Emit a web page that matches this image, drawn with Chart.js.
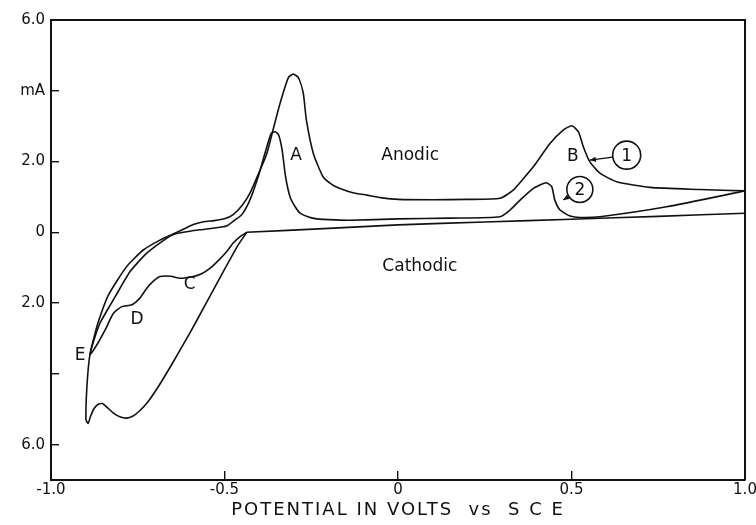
<!DOCTYPE html>
<html>
<head>
<meta charset="utf-8">
<script src="https://cdn.jsdelivr.net/npm/chart.js@4/dist/chart.umd.min.js"></script>
<style>
  html, body { margin: 0; padding: 0; background: #fff; }
  #wrap { width: 756px; height: 525px; position: relative; }
</style>
</head>
<body>
<div id="wrap"><canvas id="cv"></canvas></div>
<script>
// Axis ticks
const xTickValues = [-1.0, -0.5, 0, 0.5, 1.0];
const xTickLabels = ["-1.0", "-0.5", "0", "0.5", "1.0"];
const yTickValues = [6, 4, 2, 0, -2, -4, -6];
const yTickLabels = ["6.0", "mA", "2.0", "0", "2.0", "", "6.0"];

// Common cathodic return (V vs SCE, mA), swept from +1.0 V
const returnPotential = [1.0, 0.75, 0.5, 0.25, 0.0, -0.2, -0.436];
const returnCurrent   = [0.54, 0.45, 0.37, 0.29, 0.21, 0.11, 0.0];

// Cycle 1: cathodic branch to -0.9 V, then the anodic sweep (peaks A and B)
const cycle1Potential = [
  -0.436, -0.46, -0.50, -0.55, -0.60, -0.65, -0.69, -0.72, -0.745, -0.765,
  -0.782, -0.80, -0.82, -0.838, -0.852, -0.864, -0.876, -0.886, -0.893, -0.899,
  -0.899, -0.897, -0.893, -0.888, -0.878, -0.862, -0.835, -0.782, -0.734, -0.686,
  -0.648, -0.62, -0.59, -0.56, -0.53, -0.50, -0.475, -0.45, -0.427, -0.40,
  -0.378, -0.36, -0.34, -0.316, -0.302, -0.287, -0.273, -0.264, -0.244, -0.216,
  -0.19, -0.167, -0.13, -0.09, -0.05, 0.0, 0.1, 0.2, 0.294, 0.332,
  0.36, 0.39, 0.438, 0.476, 0.501, 0.52, 0.534, 0.553, 0.582, 0.63,
  0.726, 0.87, 1.0
];
const cycle1Current = [
  0.0, -0.35, -1.05, -1.95, -2.85, -3.70, -4.35, -4.78, -5.05, -5.20,
  -5.25, -5.22, -5.11, -4.95, -4.84, -4.86, -4.98, -5.2, -5.40, -5.30,
  -4.90, -4.45, -3.89, -3.47, -3.04, -2.48, -1.78, -0.97, -0.50, -0.22,
  -0.05, 0.08, 0.22, 0.30, 0.33, 0.38, 0.50, 0.75, 1.10, 1.70,
  2.23, 2.90, 3.64, 4.37, 4.47, 4.37, 3.93, 3.17, 2.23, 1.57,
  1.35, 1.24, 1.12, 1.05, 0.98, 0.93, 0.92, 0.93, 0.96, 1.19,
  1.50, 1.85, 2.51, 2.89, 3.01, 2.84, 2.42, 1.99, 1.67, 1.43,
  1.27, 1.21, 1.17
];

// Cycle 2: cathodic branch with waves C, D down to E, then the anodic sweep
const cycle2Potential = [
  -0.436, -0.455, -0.475, -0.494, -0.518, -0.542, -0.566, -0.59, -0.628, -0.655,
  -0.686, -0.705, -0.724, -0.744, -0.767, -0.796, -0.82, -0.844, -0.866, -0.888,
  -0.878, -0.859, -0.815, -0.772, -0.724, -0.667, -0.643, -0.60, -0.571, -0.53,
  -0.494, -0.47, -0.45, -0.427, -0.403, -0.378, -0.365, -0.354, -0.344, -0.334,
  -0.324, -0.311, -0.295, -0.282, -0.26, -0.234, -0.18, -0.138, 0.0, 0.15,
  0.294, 0.323, 0.352, 0.39, 0.419, 0.428, 0.443, 0.452, 0.467, 0.496,
  0.524, 0.582, 0.774, 1.0
];
const cycle2Current = [
  0.0, -0.12, -0.30, -0.55, -0.80, -1.02, -1.17, -1.25, -1.30, -1.24,
  -1.25, -1.38, -1.58, -1.86, -2.05, -2.10, -2.29, -2.76, -3.15, -3.47,
  -3.10, -2.57, -1.82, -1.11, -0.59, -0.17, -0.05, 0.03, 0.07, 0.12,
  0.18, 0.35, 0.50, 0.91, 1.57, 2.42, 2.80, 2.84, 2.75, 2.33,
  1.57, 1.00, 0.70, 0.54, 0.44, 0.38, 0.35, 0.34, 0.38, 0.40,
  0.44, 0.63, 0.91, 1.24, 1.38, 1.40, 1.29, 0.91, 0.63, 0.46,
  0.42, 0.44, 0.72, 1.17
];

const toPoints = (xs, ys) => xs.map((x, i) => ({ x: x, y: ys[i] }));

const INK = '#111';
const FONT = '"DejaVu Sans", "Liberation Sans", sans-serif';

function traceStyle(points) {
  return {
    data: points,
    showLine: true,
    borderColor: INK,
    borderWidth: 1.6,
    pointRadius: 0,
    tension: 0.2,
    fill: false
  };
}

// Letters, region names and numbered callouts placed in data coordinates
const callouts = {
  id: 'callouts',
  afterDatasetsDraw(chart, args, opts) {
    const { ctx, scales: { x, y } } = chart;
    ctx.save();
    ctx.fillStyle = INK;
    ctx.strokeStyle = INK;
    ctx.textAlign = 'center';
    ctx.textBaseline = 'middle';
    ctx.font = '17px ' + FONT;
    opts.texts.forEach(t => {
      ctx.fillText(t.text, x.getPixelForValue(t.x), y.getPixelForValue(t.y));
    });
    opts.rings.forEach(r => {
      const cx = x.getPixelForValue(r.x), cy = y.getPixelForValue(r.y);
      ctx.lineWidth = 1.6;
      ctx.beginPath();
      ctx.arc(cx, cy, r.radius, 0, Math.PI * 2);
      ctx.stroke();
      ctx.fillText(r.text, cx, cy + 1);
      // leader with arrowhead onto the curve
      const tx = x.getPixelForValue(r.tipX), ty = y.getPixelForValue(r.tipY);
      const ang = Math.atan2(ty - cy, tx - cx);
      const sx = cx + Math.cos(ang) * r.radius, sy = cy + Math.sin(ang) * r.radius;
      ctx.lineWidth = 1.2;
      ctx.beginPath();
      ctx.moveTo(sx, sy);
      ctx.lineTo(tx, ty);
      ctx.stroke();
      const ah = 6, aw = 2.6;
      ctx.beginPath();
      ctx.moveTo(tx, ty);
      ctx.lineTo(tx - Math.cos(ang) * ah - Math.sin(ang) * aw, ty - Math.sin(ang) * ah + Math.cos(ang) * aw);
      ctx.lineTo(tx - Math.cos(ang) * ah + Math.sin(ang) * aw, ty - Math.sin(ang) * ah - Math.cos(ang) * aw);
      ctx.closePath();
      ctx.fill();
    });
    ctx.restore();
  }
};

// Closes the frame on the top and right sides
const frame = {
  id: 'frame',
  afterDraw(chart) {
    const { ctx, chartArea: a } = chart;
    ctx.save();
    ctx.strokeStyle = INK;
    ctx.lineWidth = 2;
    ctx.beginPath();
    ctx.moveTo(a.left, a.top);
    ctx.lineTo(a.right, a.top);
    ctx.lineTo(a.right, a.bottom);
    ctx.stroke();
    ctx.restore();
  }
};

// Wider letter spacing for the potential-axis caption
const spacedTitle = {
  id: 'spacedTitle',
  afterLayout(chart) {
    const s = chart.scales.x;
    if (s._spaced) return;
    const base = s.drawTitle.bind(s);
    s.drawTitle = function () {
      const c = this.ctx;
      c.save();
      c.letterSpacing = '2px';
      base();
      c.restore();
    };
    s._spaced = true;
  }
};

new Chart(document.getElementById('cv'), {
  type: 'scatter',
  data: {
    datasets: [
      traceStyle(toPoints(returnPotential, returnCurrent)),
      traceStyle(toPoints(cycle1Potential, cycle1Current)),
      traceStyle(toPoints(cycle2Potential, cycle2Current))
    ]
  },
  options: {
    responsive: true,
    maintainAspectRatio: false,
    animation: false,
    layout: { padding: { top: 20, right: 11, left: 0, bottom: 0 } },
    plugins: {
      legend: { display: false },
      tooltip: { enabled: false },
      callouts: {
        texts: [
          { text: 'A', x: -0.294, y: 2.18 },
          { text: 'Anodic', x: 0.035, y: 2.18 },
          { text: 'B', x: 0.504, y: 2.15 },
          { text: 'Cathodic', x: 0.063, y: -0.98 },
          { text: 'C', x: -0.60, y: -1.49 },
          { text: 'D', x: -0.752, y: -2.48 },
          { text: 'E', x: -0.916, y: -3.47 }
        ],
        rings: [
          { text: '1', x: 0.659, y: 2.18, radius: 14, tipX: 0.553, tipY: 2.04 },
          { text: '2', x: 0.524, y: 1.21, radius: 13, tipX: 0.476, tipY: 0.91 }
        ]
      }
    },
    scales: {
      x: {
        type: 'linear',
        min: -1, max: 1,
        afterBuildTicks: s => { s.ticks = xTickValues.map(v => ({ value: v })); },
        afterFit: s => { s.height = 45; s.paddingLeft = 0; s.paddingRight = 0; },
        grid: { drawOnChartArea: false, drawTicks: true, tickLength: -9, color: INK, lineWidth: 1.4 },
        border: { display: true, color: INK, width: 2 },
        ticks: {
          autoSkip: false, maxRotation: 0, padding: 10,
          color: INK, font: { family: FONT, size: 15 },
          callback: v => xTickLabels[xTickValues.indexOf(v)]
        },
        title: {
          display: true,
          text: 'POTENTIAL IN VOLTS  vs  S C E',
          color: INK,
          font: { family: FONT, size: 18 },
          padding: { top: 0, bottom: 4 }
        }
      },
      y: {
        type: 'linear',
        min: -7, max: 6,
        afterBuildTicks: s => { s.ticks = yTickValues.map(v => ({ value: v })); },
        afterFit: s => { s.width = 51; s.paddingTop = 0; s.paddingBottom = 0; },
        grid: { drawOnChartArea: false, drawTicks: true, tickLength: -8, color: INK, lineWidth: 1.4 },
        border: { display: true, color: INK, width: 2 },
        ticks: {
          autoSkip: false, padding: 14,
          color: INK, font: { family: FONT, size: 15 },
          callback: v => yTickLabels[yTickValues.indexOf(v)]
        }
      }
    }
  },
  plugins: [callouts, frame, spacedTitle]
});
</script>
</body>
</html>
